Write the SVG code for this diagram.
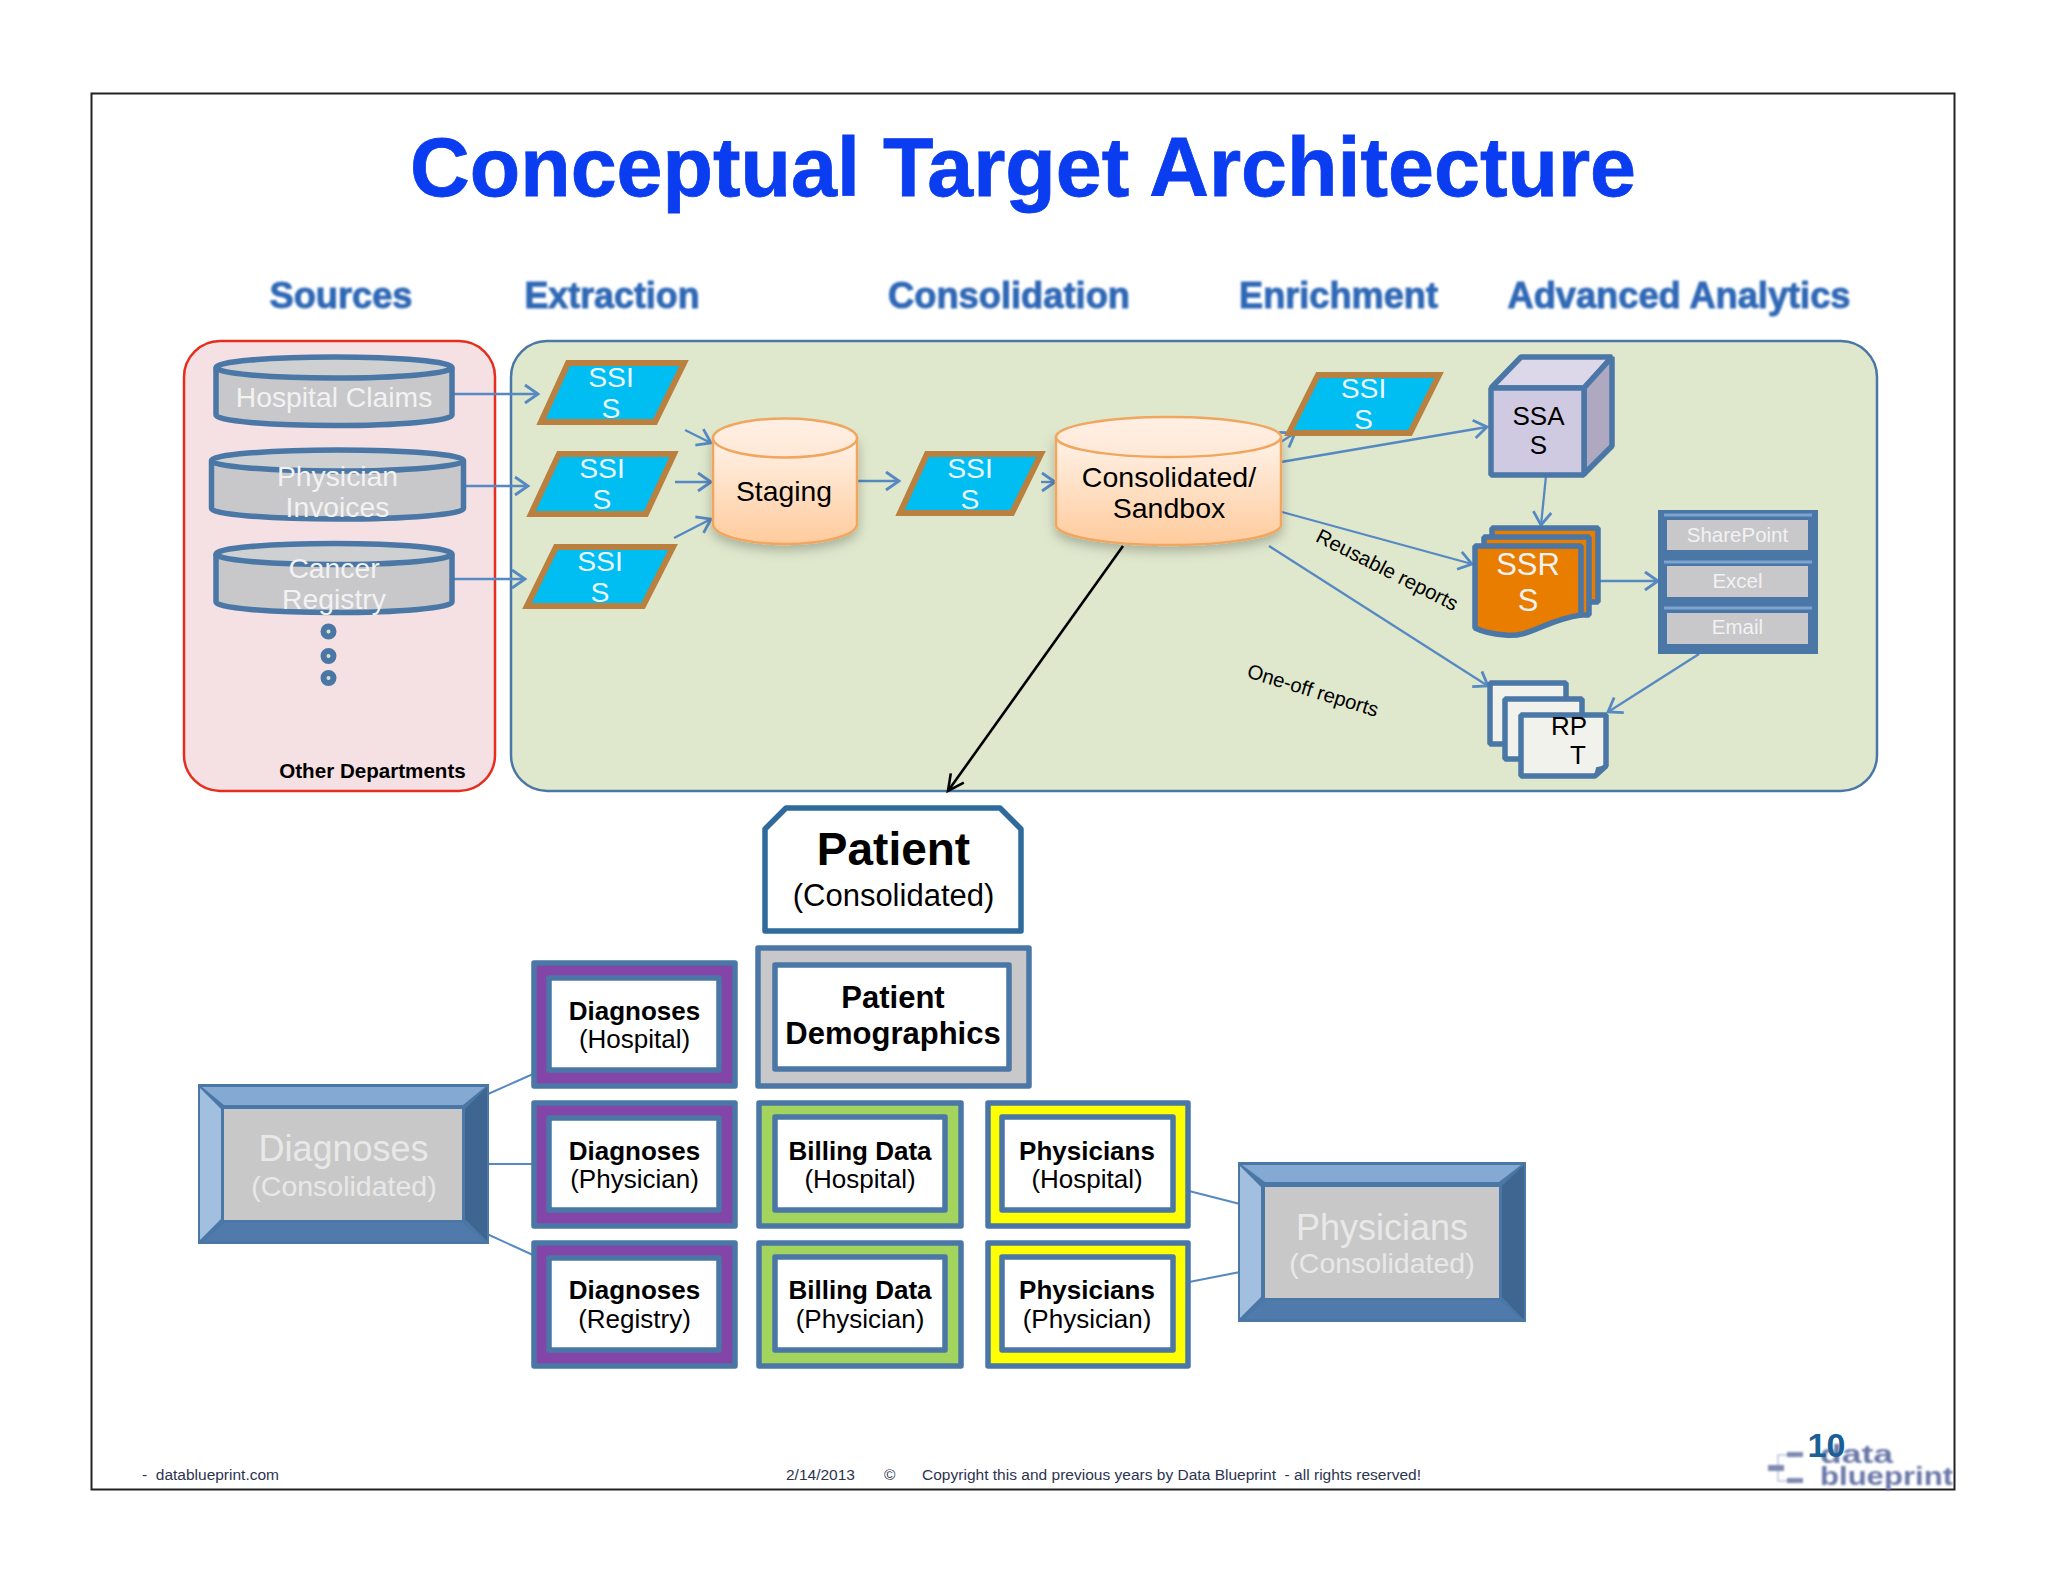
<svg xmlns="http://www.w3.org/2000/svg" width="2048" height="1582" viewBox="0 0 2048 1582">
<style>
text{font-family:"Liberation Sans",Arial,sans-serif;text-anchor:middle}
.hd{font-size:36px;font-weight:bold;fill:#2f68b6;stroke:#3a70b8;stroke-width:1;filter:url(#soft)}
.w{fill:#f2f2f2}.k{fill:#000}
.f28{font-size:28.3px}.f26{font-size:26px}
.b26{font-size:26px;font-weight:bold;fill:#000}
.r26{font-size:26px;fill:#000}
.cyl{fill:#c8c8ca;stroke:#4a77a6;stroke-width:5.5}
.cyltop{fill:#cfd0d2;stroke:#4a77a6;stroke-width:5.5}
.ssis{fill:#00bdf2;stroke:#b9803f;stroke-width:6}
.org{fill:url(#peach);stroke:#f0a65e;stroke-width:2.5;filter:url(#shadow)}
.orgtop{fill:url(#peachtop);stroke:#f0a65e;stroke-width:2.5}
.bl{stroke:#4a77a6;stroke-width:5.5;stroke-linejoin:bevel}
.card{stroke:#4a77a6;stroke-width:5.5;stroke-linejoin:round}
.inner{fill:#fff;stroke:#4a77a6;stroke-width:5.5;stroke-linejoin:round}
.ar{fill:none;stroke:#5689c2;stroke-width:2.3;marker-end:url(#arrow)}
.ln{fill:none;stroke:#5689c2;stroke-width:2}
.dot{fill:#d9e4cc;stroke:#4a77a6;stroke-width:6}
.ft{font-size:15.5px;fill:#2c3350;text-anchor:start}
.gray{fill:#c8c8ca}
.lg{font-weight:bold;font-size:26px;fill:#6b78a8;text-anchor:start;filter:url(#blur2)}
</style>
<defs>
<linearGradient id="peach" x1="0" y1="0" x2="0" y2="1"><stop offset="0" stop-color="#fff2e8"/><stop offset="1" stop-color="#ffcb9c"/></linearGradient>
<linearGradient id="peachtop" x1="0" y1="0" x2="0" y2="1"><stop offset="0" stop-color="#fff0e4"/><stop offset="1" stop-color="#ffe8d6"/></linearGradient>
<filter id="soft" x="-10%" y="-30%" width="120%" height="160%"><feGaussianBlur stdDeviation="1.3"/></filter>
<filter id="blur2" x="-20%" y="-40%" width="140%" height="180%"><feGaussianBlur stdDeviation="1"/></filter>
<filter id="shadow" x="-15%" y="-15%" width="130%" height="135%"><feDropShadow dx="0" dy="5" stdDeviation="6" flood-color="#000" flood-opacity=".25"/></filter>
<marker id="arrow" markerUnits="userSpaceOnUse" markerWidth="20" markerHeight="24" viewBox="-16 -12 20 24" refX="0" refY="0" orient="auto"><path d="M-13,-9 L0,0 L-13,9" fill="none" stroke="#5689c2" stroke-width="2.8"/></marker>
<marker id="arrowk" markerUnits="userSpaceOnUse" markerWidth="22" markerHeight="24" viewBox="-18 -12 20 24" refX="0" refY="0" orient="auto"><path d="M-16,-8 L0,0 L-16,8" fill="none" stroke="#000" stroke-width="2.6"/></marker>
</defs>
<rect width="2048" height="1582" fill="#fff"/>
<rect id="frame" x="91.5" y="93.5" width="1863" height="1396" fill="none" stroke="#222" stroke-width="2"/>
<text id="title" x="1023" y="196" font-size="84" font-weight="bold" fill="#0a3cf0" stroke="#0a3cf0" stroke-width=".8" textLength="1226" lengthAdjust="spacingAndGlyphs">Conceptual Target Architecture</text>
<g id="headers">
<text class="hd" x="341" y="308" textLength="143" lengthAdjust="spacingAndGlyphs">Sources</text>
<text class="hd" x="612" y="308" textLength="175" lengthAdjust="spacingAndGlyphs">Extraction</text>
<text class="hd" x="1009" y="308" textLength="242" lengthAdjust="spacingAndGlyphs">Consolidation</text>
<text class="hd" x="1338.500" y="308" textLength="199" lengthAdjust="spacingAndGlyphs">Enrichment</text>
<text class="hd" x="1679" y="308" textLength="343" lengthAdjust="spacingAndGlyphs">Advanced Analytics</text>
</g>
<g id="panel-sources"><rect x="184" y="341" width="311" height="450" rx="36" fill="#f5e1e3" stroke="#e62e1e" stroke-width="2.5"/>
<text x="372.500" y="778" font-size="20.600" font-weight="bold" fill="#000">Other Departments</text></g>
<g id="panel-main"><rect x="511" y="341" width="1366" height="450" rx="36" fill="#dfe8cd" stroke="#4a77a6" stroke-width="2.5"/></g>

<g id="connectors">
<path class="ar" d="M454,394H538"/>
<path class="ar" d="M466,486H528"/>
<path class="ar" d="M454,579H525"/>
<path class="ar" d="M685,430L711,443"/>
<path class="ar" d="M675,482H711"/>
<path class="ar" d="M674,538L711,519"/>
<path class="ar" d="M858,481H899"/>
<path class="ar" d="M1041,482H1055"/>
<path class="ar" d="M1276,445L1295,433"/>
<path class="ar" d="M1281,462L1487,427"/>
<path class="ar" d="M1546,476L1541,525"/>
<path class="ar" d="M1282,512L1472,564"/>
<path class="ar" d="M1269,546L1488,686"/>
<path class="ar" d="M1598,581H1658"/>
<path class="ar" d="M1699,654L1608,712"/>
<path d="M1123,546L948,791" fill="none" stroke="#000" stroke-width="2.6" marker-end="url(#arrowk)"/>
<path class="ln" d="M488,1094L533,1074"/>
<path class="ln" d="M487,1164H534"/>
<path class="ln" d="M487,1234L533,1255"/>
<path class="ln" d="M1189,1191L1240,1204"/>
<path class="ln" d="M1189,1282L1240,1272"/>
</g>

<g id="src-hospital"><path class="cyl" d="M216,367.5V415A118,10.5 0 0 0 452,415V367.5"/><ellipse class="cyltop" cx="334" cy="367.5" rx="118" ry="10.5"/><text class="w f28" x="334" y="407">Hospital Claims</text></g>
<g id="src-physician"><path class="cyl" d="M211.5,460.5V508.5A126,10.5 0 0 0 463.5,508.5V460.5"/><ellipse class="cyltop" cx="337.5" cy="460.5" rx="126" ry="10.5"/><text class="w f28" x="337.500" y="486">Physician</text><text class="w f28" x="337.500" y="517">Invoices</text></g>
<g id="src-cancer"><path class="cyl" d="M216,554V602A118,10.5 0 0 0 452,602V554"/><ellipse class="cyltop" cx="334" cy="554" rx="118" ry="10.5"/><text class="w f28" x="334" y="578">Cancer</text><text class="w f28" x="334" y="609">Registry</text></g>
<g id="src-dots"><circle class="dot" cx="328.5" cy="631.5" r="5"/><circle class="dot" cx="328.5" cy="656" r="5"/><circle class="dot" cx="328.5" cy="678" r="5"/></g>

<g id="ssis-1"><path class="ssis" d="M568,363H684L655,422H541Z"/><text class="w f28" x="611" y="387" style="fill:#eaf6ff">SSI</text><text class="w f28" x="611" y="418" style="fill:#eaf6ff">S</text></g>
<g id="ssis-2"><path class="ssis" d="M559,454H674L646,514H531Z"/><text class="w f28" x="602" y="478" style="fill:#eaf6ff">SSI</text><text class="w f28" x="602" y="509" style="fill:#eaf6ff">S</text></g>
<g id="ssis-3"><path class="ssis" d="M556,547H673L643,606H527Z"/><text class="w f28" x="600" y="571" style="fill:#eaf6ff">SSI</text><text class="w f28" x="600" y="602" style="fill:#eaf6ff">S</text></g>
<g id="staging"><path class="org" d="M713,438V524A72,20 0 0 0 857,524V438Z"/><ellipse class="orgtop" cx="785" cy="438" rx="72" ry="19.500"/><text class="k f28" x="784" y="501">Staging</text></g>
<g id="ssis-4"><path class="ssis" d="M927,454H1041L1012,513H900Z"/><text class="w f28" x="970" y="478" style="fill:#eaf6ff">SSI</text><text class="w f28" x="970" y="509" style="fill:#eaf6ff">S</text></g>
<g id="consolidated"><path class="org" d="M1056,437V525A112.500,20 0 0 0 1281,525V437Z"/><ellipse class="orgtop" cx="1168.500" cy="437" rx="112.500" ry="20"/><text class="k" font-size="28.500" x="1169" y="487">Consolidated/</text><text class="k" font-size="28.500" x="1169" y="518">Sandbox</text></g>
<g id="ssis-5"><path class="ssis" d="M1318,375H1439L1410,433H1289Z"/><text class="w f28" x="1363.500" y="398" style="fill:#eaf6ff">SSI</text><text class="w f28" x="1363.500" y="429" style="fill:#eaf6ff">S</text></g>
<g id="ssas">
<path class="bl" fill="#dcd8ea" d="M1491,388L1521,357H1612L1584,388Z"/>
<path class="bl" fill="#aea9c0" d="M1584,388L1612,357V446L1584,474Z"/>
<rect class="bl" fill="#cfc9e2" x="1491" y="388" width="93" height="87"/>
<text class="k f26" x="1538.500" y="425">SSA</text><text class="k f26" x="1538.500" y="454">S</text></g>
<g id="ssrs">
<rect class="bl" fill="#e87d00" x="1492" y="528" width="106" height="74"/>
<rect class="bl" fill="#e87d00" x="1484" y="537" width="105" height="78"/>
<path class="bl" fill="#e87d00" d="M1475,546H1581V615C1545,620 1530,638 1505,635C1492,634 1483,632 1475,628Z"/>
<text class="w" font-size="31" x="1528" y="575">SSR</text><text class="w" font-size="31" x="1528" y="611">S</text></g>
<g id="outputs">
<rect x="1658" y="510" width="160" height="144" fill="#4a77a6"/>
<path d="M1664,515H1812M1664,562H1812M1664,608H1812" stroke="#7ea3cf" stroke-width="3" fill="none"/>
<rect class="gray" x="1667" y="520" width="141" height="30"/><rect class="gray" x="1667" y="566" width="141" height="31"/><rect class="gray" x="1667" y="613" width="141" height="31"/>
<text class="w" font-size="20.500" x="1737.500" y="542">SharePoint</text><text class="w" font-size="20.500" x="1737.500" y="588">Excel</text><text class="w" font-size="20.500" x="1737.500" y="634">Email</text></g>
<g id="rpt">
<rect class="bl" fill="#f2f2ec" x="1490" y="683" width="76" height="61"/>
<rect class="bl" fill="#f2f2ec" x="1505" y="699" width="77" height="60"/>
<path class="bl" fill="#f2f2ec" d="M1521,715H1606V766L1595,776H1521Z"/>
<path d="M1595,776L1597,768L1606,766" fill="#4a77a6" stroke="#4a77a6" stroke-width="2"/>
<text class="k f26" x="1569" y="735">RP</text><text class="k f26" x="1578" y="764">T</text></g>
<text x="1384" y="576" class="k" font-size="20.500" transform="rotate(26.900 1384 576)">Reusable reports</text>
<text x="1311" y="697" class="k" font-size="20.300" transform="rotate(17 1311 697)">One-off reports</text>

<g id="patient"><path fill="#fff" stroke="#2e6a9c" stroke-width="5.500" stroke-linejoin="round" d="M786,808H1000L1021,829V931H765V829Z"/><text x="893.500" y="865" font-size="46" font-weight="bold" class="k">Patient</text><text x="893.500" y="906" font-size="31" class="k">(Consolidated)</text></g>
<g id="patient-demographics"><rect class="card" fill="#c8c8ca" x="758" y="948" width="271" height="138"/><rect class="inner" x="775" y="965" width="234" height="104"/><text x="893" y="1008" font-size="31" font-weight="bold" class="k">Patient</text><text x="893" y="1044" font-size="31" font-weight="bold" class="k">Demographics</text></g>

<g id="diag-hospital"><rect class="card" fill="#8345a8" x="534" y="963" width="201" height="123"/><rect class="inner" x="549" y="978" width="170" height="92"/><text class="b26" x="634.500" y="1020">Diagnoses</text><text class="r26" x="634.500" y="1048">(Hospital)</text></g>
<g id="diag-physician"><rect class="card" fill="#8345a8" x="534" y="1103" width="201" height="123"/><rect class="inner" x="549" y="1118" width="170" height="92"/><text class="b26" x="634.500" y="1160">Diagnoses</text><text class="r26" x="634.500" y="1188">(Physician)</text></g>
<g id="diag-registry"><rect class="card" fill="#8345a8" x="534" y="1243" width="201" height="123"/><rect class="inner" x="549" y="1258" width="170" height="92"/><text class="b26" x="634.500" y="1299">Diagnoses</text><text class="r26" x="634.500" y="1328">(Registry)</text></g>
<g id="bill-hospital"><rect class="card" fill="#a2d45e" x="759" y="1103" width="202" height="123"/><rect class="inner" x="775" y="1117" width="170" height="93"/><text class="b26" x="860" y="1160">Billing Data</text><text class="r26" x="860" y="1188">(Hospital)</text></g>
<g id="bill-physician"><rect class="card" fill="#a2d45e" x="759" y="1243" width="202" height="123"/><rect class="inner" x="775" y="1257" width="170" height="93"/><text class="b26" x="860" y="1299">Billing Data</text><text class="r26" x="860" y="1328">(Physician)</text></g>
<g id="phys-hospital"><rect class="card" fill="#ffff00" x="988" y="1103" width="200" height="123"/><rect class="inner" x="1002" y="1117" width="171" height="93"/><text class="b26" x="1087" y="1160">Physicians</text><text class="r26" x="1087" y="1188">(Hospital)</text></g>
<g id="phys-physician"><rect class="card" fill="#ffff00" x="988" y="1243" width="200" height="123"/><rect class="inner" x="1002" y="1257" width="171" height="93"/><text class="b26" x="1087" y="1299">Physicians</text><text class="r26" x="1087" y="1328">(Physician)</text></g>

<g id="diag-consolidated">
<rect x="198" y="1084" width="291" height="160" fill="#4a77a6"/>
<path fill="#84a9d3" d="M202,1087H485L463,1105H224Z"/>
<path fill="#a3bfe0" d="M200,1088L221,1109V1219L200,1240Z"/>
<path fill="#3e6690" d="M487,1087V1241L465,1219V1109Z"/>
<path fill="#4f7aab" d="M204,1241L224,1223H463L484,1241Z"/>
<rect x="224" y="1109" width="238" height="111" fill="#c8c8c8"/>
<text x="343.500" y="1161" font-size="36" fill="#e8e8e8">Diagnoses</text><text x="344" y="1196" font-size="28.500" fill="#e8e8e8">(Consolidated)</text></g>
<g id="phys-consolidated">
<rect x="1238" y="1162" width="288" height="160" fill="#4a77a6"/>
<path fill="#84a9d3" d="M1242,1165H1521L1499,1182H1265Z"/>
<path fill="#a3bfe0" d="M1240,1166L1261,1187V1297L1240,1318Z"/>
<path fill="#3e6690" d="M1524,1165V1320L1502,1297V1186Z"/>
<path fill="#4f7aab" d="M1244,1319L1265,1300H1500L1521,1319Z"/>
<rect x="1265" y="1187" width="234" height="111" fill="#c8c8c8"/>
<text x="1382" y="1240" font-size="36" fill="#e8e8e8">Physicians</text><text x="1382" y="1273" font-size="28.500" fill="#e8e8e8">(Consolidated)</text></g>

<g id="footer">
<text class="ft" x="142" y="1480" textLength="137" lengthAdjust="spacing">-&#160; datablueprint.com</text>
<text class="ft" x="786" y="1480">2/14/2013</text>
<text class="ft" x="884" y="1480">©</text>
<text class="ft" x="922" y="1480" textLength="499" lengthAdjust="spacing">Copyright this and previous years by Data Blueprint&#160; - all rights reserved!</text>
</g>
<g id="logo">
<path d="M1795,1455H1778V1481H1795M1770,1468H1778" stroke="#ccd2e2" stroke-width="2" fill="none" filter="url(#blur2)"/>
<g filter="url(#blur2)" fill="#7f8ab0"><rect x="1787" y="1452" width="16" height="5"/><rect x="1768" y="1465" width="16" height="6"/><rect x="1787" y="1478" width="16" height="5"/></g>
<path d="M1811,1445V1485" stroke="#c8cfe0" stroke-width="2" fill="none" filter="url(#blur2)"/>
<text class="lg" x="1820" y="1463" textLength="73" lengthAdjust="spacingAndGlyphs">data</text>
<text class="lg" x="1820" y="1485" textLength="133" lengthAdjust="spacingAndGlyphs">blueprint</text>
<text x="1826.500" y="1457" font-size="34" font-weight="bold" fill="#1a5f96">10</text>
</g>
</svg>
